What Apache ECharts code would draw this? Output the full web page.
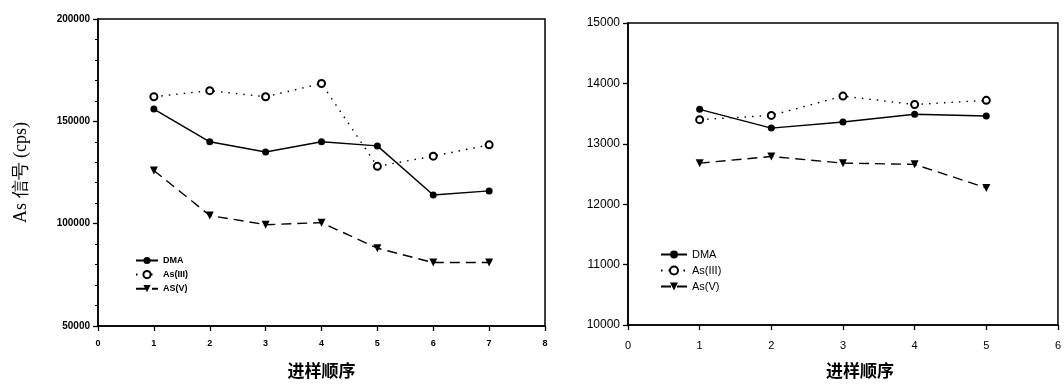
<!DOCTYPE html>
<html>
<head>
<meta charset="utf-8">
<script src="https://cdn.jsdelivr.net/npm/echarts@6/dist/echarts.min.js"></script>
<style>
html,body{margin:0;padding:0;background:#fff;}
#chart{width:1064px;height:384px;}
</style>
</head>
<body>
<div id="chart"></div>
<script>
// ---- Data (left panel) ----
const orderLeft = [1, 2, 3, 4, 5, 6, 7];
const dmaLeft   = [156000, 140000, 135000, 140000, 138000, 114000, 116000];
const as3Left   = [162000, 165000, 162000, 168500, 128000, 133000, 138500];
const as5Left   = [126000, 104000, 99500, 100500, 88000, 81000, 81000];

// ---- Data (right panel) ----
const orderRight = [1, 2, 3, 4, 5];
const dmaRight   = [13570, 13260, 13360, 13490, 13460];
const as3Right   = [13400, 13470, 13790, 13650, 13720];
const as5Right   = [12680, 12790, 12680, 12660, 12270];

// ---- Labels ----
const yTitle = 'As 信号 (cps)';
const xTitle = '进样顺序';
const namesLeft  = ['DMA', 'As(III)', 'AS(V)'];
const namesRight = ['DMA', 'As(III)', 'As(V)'];

const pairs = (xs, ys) => xs.map((x, i) => [x, ys[i]]);
const plain = v => String(v);

const black = '#000';
const styles = [
  { symbol: 'circle', symbolSize: 7, symbolRotate: 0, lineType: 'solid' },
  { symbol: 'emptyCircle', symbolSize: 7, symbolRotate: 0, lineType: [1.5, 6] },
  { symbol: 'triangle', symbolSize: 8, symbolRotate: 180, lineType: [10, 6] }
];

function mkSeries(name, data, k, idx) {
  const s = styles[k];
  return {
    type: 'line', name: name, data: data,
    xAxisIndex: idx, yAxisIndex: idx,
    symbol: s.symbol, symbolSize: s.symbolSize, symbolRotate: s.symbolRotate,
    showAllSymbol: true,
    lineStyle: { color: black, width: 1.4, type: s.lineType },
    itemStyle: { color: black, borderColor: black, borderWidth: k === 1 ? 1.5 : 0 },
    emphasis: { disabled: true },
    animation: false
  };
}

const axisLine = { show: true, lineStyle: { color: black, width: 1.6 } };
const tick = { show: true, inside: false, length: 5, lineStyle: { color: black, width: 1.3 } };

const option = {
  animation: false,
  backgroundColor: '#fff',
  grid: [
    { left: 98, top: 19, width: 447, height: 307, show: true, borderColor: black, borderWidth: 1.5, backgroundColor: 'transparent' },
    { left: 628, top: 23, width: 440, height: 302, show: true, borderColor: black, borderWidth: 1.5, backgroundColor: 'transparent' }
  ],
  xAxis: [
    { type: 'value', gridIndex: 0, min: 0, max: 8, interval: 1,
      axisLine: axisLine, splitLine: { show: false }, axisTick: tick,
      axisLabel: { color: black, fontSize: 9, fontWeight: 'bold', fontFamily: 'Liberation Sans, Arial', margin: 13, formatter: plain },
      name: xTitle, nameLocation: 'middle', nameGap: 36,
      nameTextStyle: { color: black, fontSize: 17, fontWeight: 'bold', fontFamily: 'Noto Sans CJK SC' } },
    { type: 'value', gridIndex: 1, min: 0, max: 6, interval: 1,
      axisLine: axisLine, splitLine: { show: false }, axisTick: tick,
      axisLabel: { color: black, fontSize: 11, fontFamily: 'Liberation Sans, Arial', margin: 15, formatter: plain },
      name: xTitle, nameLocation: 'middle', nameGap: 37,
      nameTextStyle: { color: black, fontSize: 17, fontWeight: 'bold', fontFamily: 'Noto Sans CJK SC', padding: [0, 0, 0, 34] } }
  ],
  yAxis: [
    { type: 'value', gridIndex: 0, min: 50000, max: 200000, interval: 50000,
      axisLine: axisLine, splitLine: { show: false }, axisTick: tick,
      minorTick: { show: true, splitNumber: 5, length: 3, lineStyle: { color: black, width: 1 } },
      axisLabel: { color: black, fontSize: 10, fontWeight: 'bold', fontFamily: 'Liberation Sans, Arial', margin: 8, formatter: plain },
      name: yTitle, nameLocation: 'middle', nameGap: 68, nameRotate: 90,
      nameTextStyle: { color: black, fontSize: 18, fontFamily: 'Liberation Serif, Times New Roman, serif' } },
    { type: 'value', gridIndex: 1, min: 10000, max: 15000, interval: 1000,
      axisLine: axisLine, splitLine: { show: false }, axisTick: tick,
      axisLabel: { color: black, fontSize: 12, fontFamily: 'Liberation Sans, Arial', margin: 8, formatter: plain } }
  ],
  legend: [
    { data: namesLeft, orient: 'vertical', left: 135, top: 256, padding: 0, itemGap: 5, itemWidth: 22, itemHeight: 9,
      textStyle: { color: black, fontSize: 9, fontWeight: 'bold', fontFamily: 'Liberation Sans, Arial' },
      selectedMode: false },
    { data: namesRight, orient: 'vertical', left: 660, top: 249, padding: 0, itemGap: 5, itemWidth: 26, itemHeight: 10,
      textStyle: { color: black, fontSize: 11, fontFamily: 'Liberation Sans, Arial' },
      selectedMode: false }
  ],
  series: [
    mkSeries(namesLeft[0], pairs(orderLeft, dmaLeft), 0, 0),
    mkSeries(namesLeft[1], pairs(orderLeft, as3Left), 1, 0),
    mkSeries(namesLeft[2], pairs(orderLeft, as5Left), 2, 0),
    mkSeries(namesRight[0], pairs(orderRight, dmaRight), 0, 1),
    mkSeries(namesRight[1], pairs(orderRight, as3Right), 1, 1),
    mkSeries(namesRight[2], pairs(orderRight, as5Right), 2, 1)
  ]
};

const chart = echarts.init(document.getElementById('chart'), null, { renderer: 'canvas' });
chart.setOption(option);
</script>
</body>
</html>
